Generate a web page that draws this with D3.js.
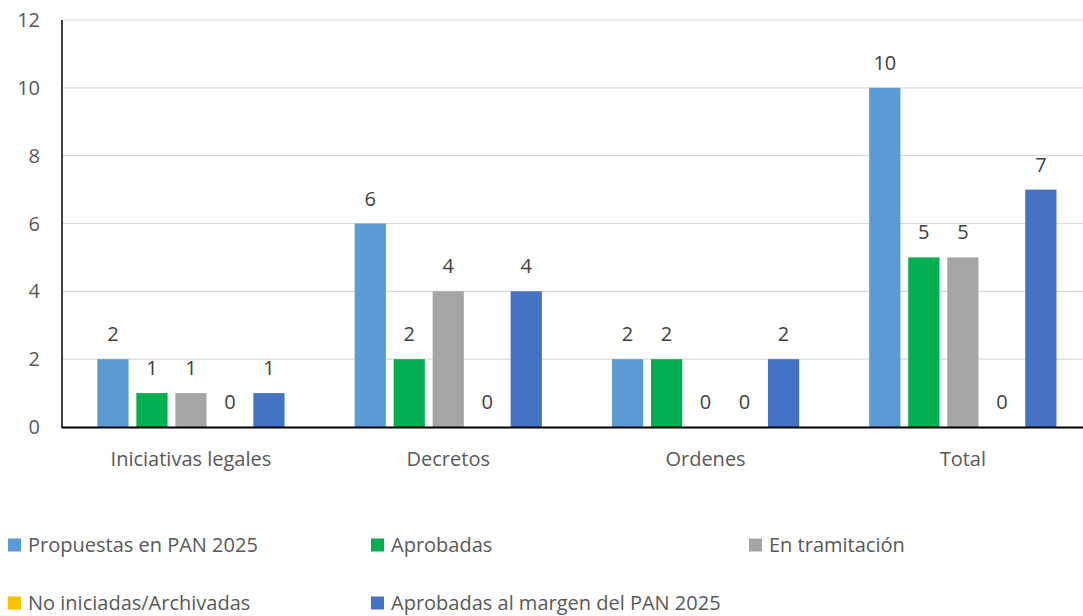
<!DOCTYPE html>
<html><head><meta charset="utf-8">
<script src="https://cdn.jsdelivr.net/npm/d3@7"></script>
<style>body{margin:0;background:#fff;}svg{display:block;font-family:"Open Sans",sans-serif;}</style>
</head><body>
<svg id="c" width="1083" height="616"></svg>
<script>
const categories = ["Iniciativas legales", "Decretos", "Ordenes", "Total"];
const seriesNames = ["Propuestas en PAN 2025", "Aprobadas", "En tramitación", "No iniciadas/Archivadas", "Aprobadas al margen del PAN 2025"];
const propuestas = [2, 6, 2, 10];
const aprobadas = [1, 2, 2, 5];
const enTramitacion = [1, 4, 0, 5];
const noIniciadas = [0, 0, 0, 0];
const alMargen = [1, 4, 2, 7];
const yTicks = [0, 2, 4, 6, 8, 10, 12];
const colors = ["#5B9BD5", "#00B050", "#A5A5A5", "#FFC000", "#4472C4"];

const series = [propuestas, aprobadas, enTramitacion, noIniciadas, alMargen];
const svg = d3.select("#c");
const x0 = d3.scaleBand().domain(categories).range([62.3, 1091.5]).paddingInner(0.242).paddingOuter(0.121);
const x1 = d3.scaleBand().domain(d3.range(seriesNames.length)).range([0, x0.bandwidth()]).paddingInner(0.2).paddingOuter(0.1);
const y = d3.scaleLinear().domain([0, 12]).range([427, 20]);
const FS = 20;

svg.append("g").selectAll("line").data(yTicks.filter(t => t > 0)).join("line")
  .attr("x1", 63).attr("x2", 1083).attr("y1", d => y(d)).attr("y2", d => y(d))
  .attr("stroke", "#D9D9D9").attr("stroke-width", 1.2);

svg.append("g").selectAll("text").data(yTicks).join("text")
  .attr("x", 40).attr("y", d => y(d)).attr("dy", "0.35em").attr("text-anchor", "end")
  .attr("font-size", FS).attr("fill", "#595959").text(d => d);

const groups = svg.append("g").selectAll("g").data(categories).join("g")
  .attr("transform", d => `translate(${x0(d)},0)`);
groups.each(function(cat, ci) {
  const g = d3.select(this);
  const vals = series.map((s, si) => ({si, v: s[ci]}));
  g.selectAll("rect").data(vals).join("rect")
    .attr("x", d => x1(d.si)).attr("width", x1.bandwidth())
    .attr("y", d => y(d.v)).attr("height", d => y(0) - y(d.v))
    .attr("fill", d => colors[d.si]);
  g.selectAll("text").data(vals).join("text")
    .attr("x", d => x1(d.si) + x1.bandwidth() / 2).attr("y", d => y(d.v) - 18)
    .attr("text-anchor", "middle").attr("font-size", FS).attr("fill", "#404040")
    .text(d => d.v);
});

svg.append("line").attr("x1", 62).attr("x2", 62).attr("y1", 20).attr("y2", 428)
  .attr("stroke", "#000").attr("stroke-width", 1.5);
svg.append("line").attr("x1", 62).attr("x2", 1083).attr("y1", 427.5).attr("y2", 427.5)
  .attr("stroke", "#000").attr("stroke-width", 2);

svg.append("g").selectAll("text").data(categories).join("text")
  .attr("x", d => x0(d) + x0.bandwidth() / 2).attr("y", 466)
  .attr("text-anchor", "middle").attr("font-size", FS).attr("fill", "#595959").text(d => d);

const legPos = [[8, 545], [371, 545], [749, 545], [8, 603], [371, 603]];
const leg = svg.append("g").selectAll("g").data(seriesNames).join("g")
  .attr("transform", (d, i) => `translate(${legPos[i][0]},${legPos[i][1]})`);
leg.append("rect").attr("x", 0).attr("y", -6.5).attr("width", 13).attr("height", 13)
  .attr("fill", (d, i) => colors[i]);
leg.append("text").attr("x", 20).attr("y", 0).attr("dy", "0.35em")
  .attr("font-size", FS).attr("fill", "#595959").text(d => d);
</script>
</body></html>
